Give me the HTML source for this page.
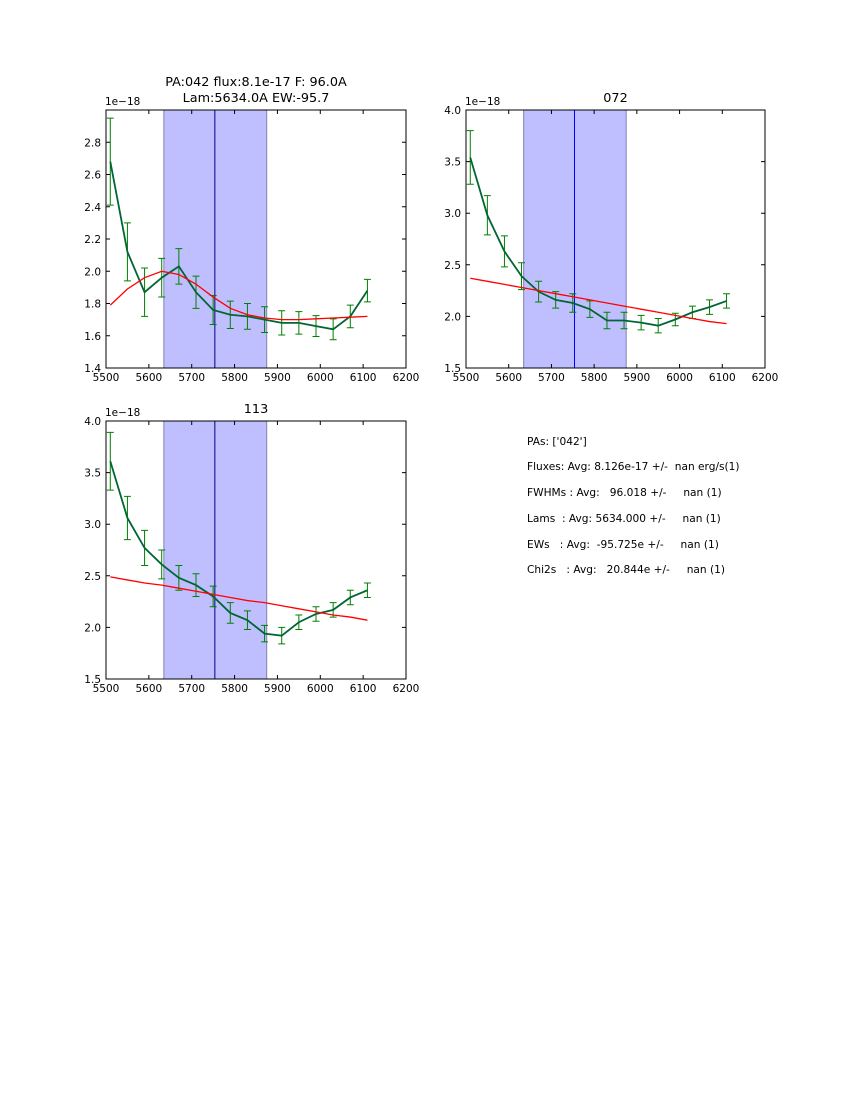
<!DOCTYPE html>
<html><head><meta charset="utf-8"><style>
body{margin:0;background:#fff;width:850px;height:1100px;overflow:hidden;font-family:"DejaVu Sans",sans-serif}
svg text{font-family:"DejaVu Sans",sans-serif}
</style></head><body>
<svg id="s" width="850" height="1100">
<text x="527" y="445" font-size="10.6">PAs: ['042']</text>
<text x="527" y="470" font-size="10.6" xml:space="preserve">Fluxes: Avg: 8.126e-17 +/-  nan erg/s(1)</text>
<text x="527" y="496" font-size="10.6" xml:space="preserve">FWHMs : Avg:   96.018 +/-     nan (1)</text>
<text x="527" y="522" font-size="10.6" xml:space="preserve">Lams  : Avg: 5634.000 +/-     nan (1)</text>
<text x="527" y="548" font-size="10.6" xml:space="preserve">EWs   : Avg:  -95.725e +/-     nan (1)</text>
<text x="527" y="573" font-size="10.6" xml:space="preserve">Chi2s   : Avg:   20.844e +/-     nan (1)</text>
</svg>
<script>
const wave=[5510,5550,5590,5630,5670,5710,5750,5790,5830,5870,5910,5950,5990,6030,6070,6110];
const flux1=[2.68,2.12,1.87,1.96,2.03,1.87,1.76,1.73,1.72,1.70,1.68,1.68,1.66,1.64,1.72,1.88];
const err1=[0.27,0.18,0.15,0.12,0.11,0.10,0.09,0.085,0.08,0.08,0.075,0.07,0.065,0.065,0.07,0.07];
const fit1=[1.79,1.89,1.96,2.00,1.98,1.92,1.84,1.77,1.73,1.71,1.70,1.70,1.705,1.71,1.715,1.72];
const flux2=[3.54,2.98,2.63,2.39,2.24,2.16,2.13,2.07,1.96,1.96,1.94,1.91,1.97,2.04,2.09,2.15];
const err2=[0.26,0.19,0.15,0.13,0.10,0.08,0.09,0.08,0.08,0.08,0.07,0.07,0.06,0.06,0.07,0.07];
const fit2=[2.37,2.34,2.31,2.28,2.25,2.22,2.19,2.16,2.13,2.10,2.07,2.04,2.01,1.98,1.95,1.93];
const flux3=[3.61,3.06,2.77,2.61,2.48,2.41,2.30,2.14,2.07,1.94,1.92,2.05,2.13,2.17,2.29,2.36];
const err3=[0.28,0.21,0.17,0.14,0.12,0.11,0.10,0.10,0.09,0.08,0.08,0.07,0.07,0.07,0.07,0.07];
const fit3=[2.49,2.46,2.43,2.41,2.38,2.35,2.32,2.29,2.26,2.24,2.21,2.18,2.15,2.12,2.10,2.07];
const xTicks=[5500,5600,5700,5800,5900,6000,6100,6200];
const yTicks1=["1.4","1.6","1.8","2.0","2.2","2.4","2.6","2.8"];
const yTicks2=["1.5","2.0","2.5","3.0","3.5","4.0"];
const bandLo=5635,bandHi=5875,lineLam=5754;
const NS="http://www.w3.org/2000/svg";
const svg=document.getElementById('s');
function mk(t,a,p){const e=document.createElementNS(NS,t);for(const k in a)e.setAttribute(k,a[k]);(p||svg).appendChild(e);return e;}
function panel(name,L,T,W,H,ymin,ymax,yt,flux,err,fit,titles,lineCol){
  const g=mk('g',{});
  
  
  const X=v=>L+(v-5500)/700*W, Y=v=>T+H-(v-ymin)/(ymax-ymin)*H;
  const band=mk('rect',{x:X(bandLo),y:T,width:X(bandHi)-X(bandLo),height:H,fill:'#bfbfff',stroke:'#8080b0','stroke-width':1},g);
  
  
  const ln=mk('line',{x1:X(lineLam),x2:X(lineLam),y1:T,y2:T+H,stroke:lineCol,'stroke-width':1},g);
  
  
  for(let i=0;i<wave.length;i++){
    const x=X(wave[i]),y1=Y(flux[i]-err[i]),y2=Y(flux[i]+err[i]);
    const e=mk('path',{d:`M${x},${y1}V${y2}M${x-3.5},${y1}h7M${x-3.5},${y2}h7`,stroke:'#008000','stroke-width':1,fill:'none'},g);
    
    
  }
  const d=wave.map((w,i)=>(i?'L':'M')+X(w)+','+Y(flux[i])).join('');
  const p=mk('path',{d,stroke:'#006633','stroke-width':1.8,fill:'none'},g);
  
  
  const df=wave.map((w,i)=>(i?'L':'M')+X(w)+','+Y(fit[i])).join('');
  const f=mk('path',{d:df,stroke:'#ff0000','stroke-width':1.3,fill:'none'},g);
  
  
  mk('rect',{x:L,y:T,width:W,height:H,fill:'none',stroke:'#000','stroke-width':1},g);
  xTicks.forEach(v=>{const x=X(v);
    mk('path',{d:`M${x},${T+H}v-4M${x},${T}v4`,stroke:'#000'},g);
    const t=mk('text',{x,y:T+H+13,'font-size':10.5,'text-anchor':'middle'},g);t.textContent=v;
    
    });
  yt.forEach(s=>{const y=Y(parseFloat(s));
    mk('path',{d:`M${L},${y}h4M${L+W},${y}h-4`,stroke:'#000'},g);
    const t=mk('text',{x:L-5,y:y+4,'font-size':10.5,'text-anchor':'end'},g);t.textContent=s;
    
    });
  const o=mk('text',{x:L-1,y:T-5,'font-size':10.5},g);o.textContent='1e\u221218';
  
  
  titles.forEach((s,i)=>{const t=mk('text',{x:L+W/2,y:T-24+i*16+(titles.length==1?16:0),'font-size':12.8,'text-anchor':'middle'},g);t.textContent=s;
    
    });
}
panel('panel-042',106,110,300,258,1.4,3.0,yTicks1,flux1,err1,fit1,['PA:042 flux:8.1e-17 F: 96.0A','Lam:5634.0A EW:-95.7'],'#000080');
panel('panel-072',466,110,299,258,1.5,4.0,yTicks2,flux2,err2,fit2,['072'],'#0000ff');
panel('panel-113',106,421,300,258,1.5,4.0,yTicks2,flux3,err3,fit3,['113'],'#000080');
</script>
</body></html>
